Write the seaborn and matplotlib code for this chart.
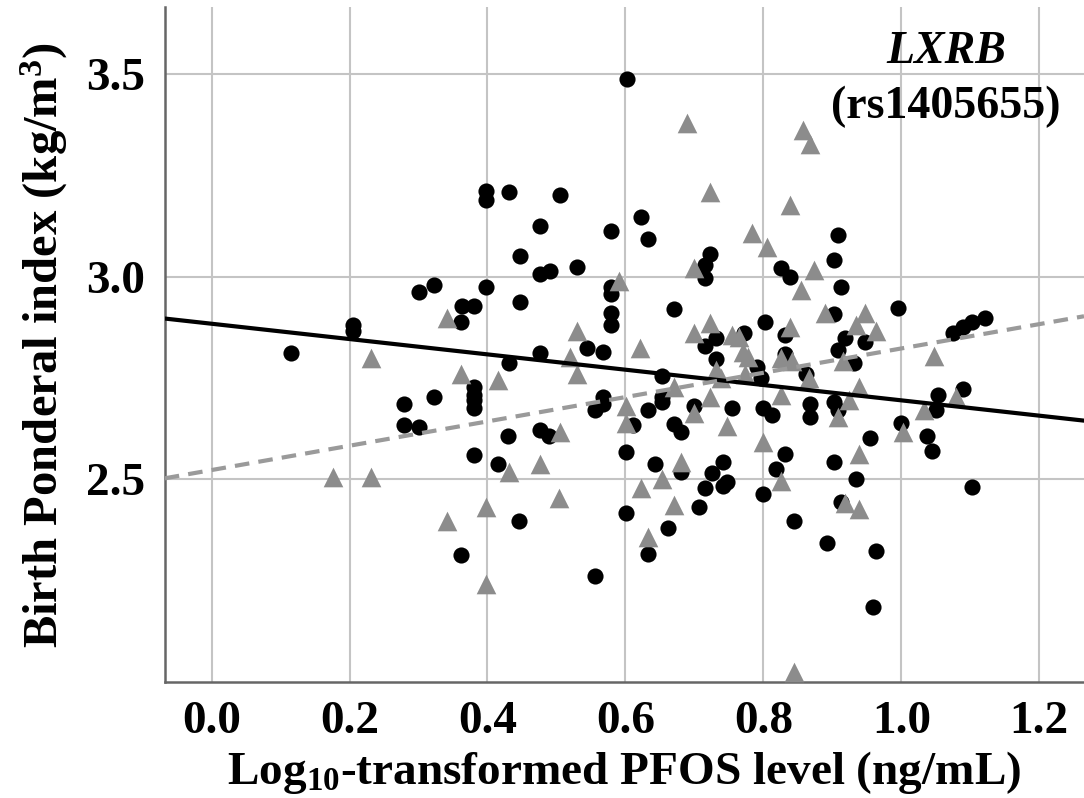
import numpy as np
import matplotlib
matplotlib.use("Agg")
import matplotlib.pyplot as plt
import seaborn as sb

# black circles
black_x = [0.115, 0.205, 0.205, 0.301, 0.322, 0.398, 0.398, 0.431, 0.398, 0.363,
           0.380, 0.362, 0.447, 0.447, 0.476, 0.505, 0.476, 0.491, 0.530, 0.579,
           0.579, 0.579, 0.579, 0.579, 0.623, 0.633, 0.603, 0.671, 0.716, 0.723,
           0.716, 0.803, 0.732, 0.716, 0.772, 0.825, 0.838, 0.908, 0.903, 0.913,
           0.995, 0.903, 0.832, 0.919, 0.948, 0.908, 0.832, 0.931, 1.075, 1.090,
           1.103, 1.122, 0.862, 1.053, 1.089, 0.476, 0.545, 0.568, 0.653, 0.732,
           0.791, 0.796, 0.653, 0.568, 0.431, 0.380, 0.380, 0.380, 0.380, 0.322,
           0.279, 0.279, 0.301, 0.430, 0.476, 0.489, 0.556, 0.568, 0.380, 0.415,
           0.446, 0.362, 0.556, 0.601, 0.601, 0.611, 0.633, 0.653, 0.671, 0.681,
           0.699, 0.643, 0.681, 0.662, 0.633, 0.707, 0.716, 0.725, 0.741, 0.741,
           0.748, 0.755, 0.799, 0.812, 0.799, 0.867, 0.867, 0.902, 0.908, 0.954,
           0.832, 0.819, 0.902, 0.934, 0.912, 0.844, 0.892, 0.963, 0.959, 0.999,
           1.037, 1.044, 1.102, 1.050]
black_y = [2.813, 2.882, 2.867, 2.963, 2.980, 3.212, 3.190, 3.209, 2.975, 2.929,
           2.929, 2.889, 3.052, 2.938, 3.126, 3.202, 3.007, 3.015, 3.025, 3.113,
           2.975, 2.958, 2.911, 2.882, 3.148, 3.094, 3.488, 2.921, 3.030, 3.057,
           2.998, 2.889, 2.850, 2.828, 2.862, 3.022, 3.000, 3.103, 3.042, 2.975,
           2.924, 2.909, 2.855, 2.850, 2.840, 2.820, 2.810, 2.788, 2.862, 2.877,
           2.889, 2.899, 2.759, 2.707, 2.724, 2.813, 2.825, 2.815, 2.754, 2.798,
           2.778, 2.751, 2.702, 2.702, 2.788, 2.729, 2.709, 2.695, 2.677, 2.702,
           2.685, 2.633, 2.628, 2.608, 2.621, 2.608, 2.672, 2.687, 2.559, 2.537,
           2.397, 2.313, 2.261, 2.567, 2.416, 2.633, 2.672, 2.690, 2.636, 2.616,
           2.682, 2.537, 2.517, 2.379, 2.315, 2.431, 2.478, 2.515, 2.542, 2.483,
           2.493, 2.677, 2.675, 2.660, 2.463, 2.687, 2.655, 2.692, 2.670, 2.603,
           2.562, 2.525, 2.542, 2.500, 2.443, 2.397, 2.342, 2.323, 2.185, 2.640,
           2.606, 2.569, 2.480, 2.672]

# grey triangles
tri_x = [0.176, 0.231, 0.231, 0.341, 0.362, 0.415, 0.341, 0.398, 0.398, 0.431,
         0.476, 0.505, 0.504, 0.519, 0.530, 0.530, 0.590, 0.621, 0.601, 0.601,
         0.623, 0.633, 0.653, 0.671, 0.681, 0.671, 0.699, 0.690, 0.699, 0.699,
         0.723, 0.723, 0.723, 0.731, 0.738, 0.748, 0.755, 0.765, 0.770, 0.778,
         0.774, 0.784, 0.805, 0.799, 0.825, 0.825, 0.842, 0.826, 0.838, 0.857,
         0.868, 0.873, 0.855, 0.838, 0.890, 0.948, 0.934, 0.964, 0.916, 0.866,
         0.938, 0.908, 0.924, 0.938, 0.918, 0.938, 0.844, 1.002, 1.033, 1.047,
         1.079]
tri_y = [2.505, 2.505, 2.800, 2.899, 2.759, 2.746, 2.397, 2.431, 2.241, 2.517,
         2.539, 2.618, 2.453, 2.803, 2.759, 2.865, 2.990, 2.825, 2.680, 2.640,
         2.478, 2.357, 2.502, 2.436, 2.544, 2.727, 2.663, 3.379, 3.022, 2.860,
         3.209, 2.887, 2.702, 2.771, 2.751, 2.631, 2.857, 2.852, 2.815, 2.803,
         2.759, 3.108, 3.074, 2.591, 2.707, 2.800, 2.791, 2.495, 3.177, 3.362,
         3.328, 3.017, 2.968, 2.877, 2.911, 2.911, 2.882, 2.865, 2.791, 2.749,
         2.727, 2.655, 2.697, 2.562, 2.441, 2.426, 2.025, 2.618, 2.672, 2.805,
         2.702]

# fitted lines (intercept, slope)
fit_black = (2.884, -0.189)
fit_grey = (2.523, 0.300)

x_ticks = [0.0, 0.2, 0.4, 0.6, 0.8, 1.0, 1.2]
y_ticks = [2.5, 3.0, 3.5]

GREY = "#8c8c8c"


def main():
    sb.set_style("white")
    plt.rcParams["font.family"] = ["Liberation Serif", "DejaVu Serif"]
    plt.rcParams["font.weight"] = "bold"
    plt.rcParams["text.color"] = "black"
    plt.rcParams["axes.labelcolor"] = "black"
    plt.rcParams["xtick.color"] = "black"
    plt.rcParams["ytick.color"] = "black"
    plt.rcParams["mathtext.fontset"] = "custom"
    plt.rcParams["mathtext.rm"] = "Liberation Serif:bold"
    plt.rcParams["mathtext.bf"] = "Liberation Serif:bold"
    plt.rcParams["mathtext.it"] = "Liberation Serif:italic:bold"

    fig = plt.figure(figsize=(10.84, 7.98), dpi=100)
    ax = fig.add_axes([0.152, 0.1454, 0.848, 0.8455])

    ax.grid(True, color="#c4c4c4", linewidth=1.5)
    ax.set_axisbelow(True)

    sb.scatterplot(x=black_x, y=black_y, ax=ax, marker="o", s=135,
                   color="black", edgecolor="black", linewidth=0, zorder=3)
    sb.scatterplot(x=tri_x, y=tri_y, ax=ax, marker="^", s=200,
                   color=GREY, edgecolor=GREY, linewidth=0, zorder=3)

    ax.axline((0, fit_black[0]), slope=fit_black[1], color="black",
              linewidth=3.0, zorder=4)
    ax.axline((0, fit_grey[0]), slope=fit_grey[1], color="#9a9a9a",
              linewidth=3.0, linestyle=(0, (3.5, 2.2)), zorder=4)

    ax.set_xlim(-0.068, 1.265)
    ax.set_ylim(2.0, 3.665)
    ax.set_xticks(x_ticks)
    ax.set_yticks(y_ticks)
    ax.set_xticklabels([f"{v:.1f}" for v in x_ticks])
    ax.set_yticklabels([f"{v:.1f}" for v in y_ticks])
    ax.tick_params(axis="x", length=0, pad=14, labelsize=34)
    ax.tick_params(axis="y", length=0, pad=14, labelsize=34)

    for side in ["top", "right"]:
        ax.spines[side].set_visible(False)
    for side in ["left", "bottom"]:
        ax.spines[side].set_color("#666666")
        ax.spines[side].set_linewidth(1.8)

    ax.set_xlabel(r"Log$_{10}$-transformed PFOS level (ng/mL)",
                  fontsize=34, fontweight="bold", labelpad=4)
    ax.set_ylabel(r"Birth Ponderal index (kg/m$^{3}$)",
                  fontsize=35, fontweight="bold", labelpad=12)

    ax.text(1.065, 3.554, "LXRB", fontsize=33, fontweight="bold",
            fontstyle="italic", ha="center", va="center")
    ax.text(1.065, 3.419, "(rs1405655)", fontsize=33, fontweight="bold",
            ha="center", va="center")

    fig.savefig("out.png", dpi=100)


if __name__ == "__main__":
    main()
